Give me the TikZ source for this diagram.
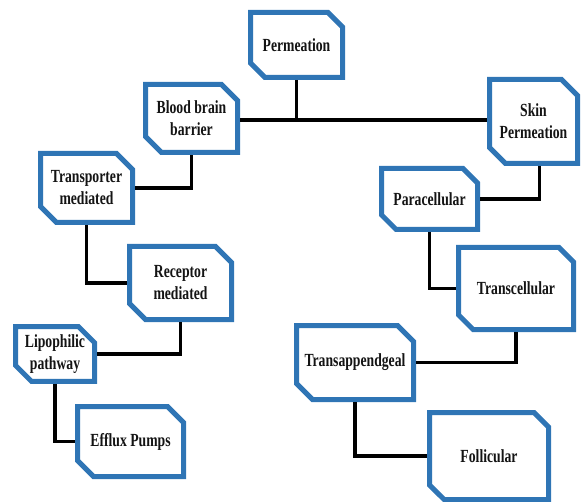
\documentclass[tikz,border=0pt]{standalone}
\usepackage{fontspec}
\newfontfamily\boxfont[FakeStretch=0.74]{Liberation Serif}
\usetikzlibrary{shapes.misc}
\definecolor{boxblue}{RGB}{47,117,181}
\definecolor{txt}{RGB}{20,20,20}
\tikzset{
  cbox/.style={chamfered rectangle, chamfered rectangle corners={north east,south west},
    chamfered rectangle xsep=8pt, chamfered rectangle ysep=8pt,
    draw=boxblue, line width=5pt, fill=white, text=txt, align=center, inner sep=0pt,
    font=\boxfont\bfseries\fontsize{18.5}{22}\selectfont},
  conn/.style={line width=3.3pt, draw=black}
}
\begin{document}
\begin{tikzpicture}[x=1pt,y=-1pt]
\useasboundingbox (0,0) rectangle (583,502);
\coordinate (J) at (297,120);
\node[cbox, minimum width=92, minimum height=65] (perm) at (296.5,45) {Permeation};
\node[cbox, minimum width=92, minimum height=68] (bbb) at (191.5,118.5) {Blood brain\\barrier};
\node[cbox, minimum width=88, minimum height=84] (skin) at (533.5,121.5) {Skin\\Permeation};
\node[cbox, minimum width=92, minimum height=69] (trans) at (86.5,188) {Transporter\\mediated};
\node[cbox, minimum width=102, minimum height=73] (rec) at (180.5,283) {Receptor\\mediated};
\node[cbox, minimum width=79, minimum height=53] (lip) at (55,354) {Lipophilic\\pathway};
\node[cbox, minimum width=106, minimum height=70] (eff) at (130.5,441.5) {Efflux Pumps};
\node[cbox, minimum width=96, minimum height=61] (para) at (429.5,199) {Paracellular};
\node[cbox, minimum width=115, minimum height=82] (tcell) at (516,288.5) {Transcellular};
\node[cbox, minimum width=117, minimum height=74] (tapp) at (355,362.5) {Transappendgeal};
\node[cbox, minimum width=119, minimum height=87] (foll) at (489,456) {Follicular};
\draw[conn] (perm.south) -- (perm.south |- J);
\draw[conn] (bbb.east |- J) -- (skin.west |- J);
\draw[conn] (trans.east) -| (bbb.south);
\draw[conn] (trans.south) |- (rec.west);
\draw[conn] (rec.south) |- (lip.east);
\draw[conn] (lip.south) |- (eff.west);
\coordinate (sk) at ([xshift=6pt]skin.south);
\draw[conn] (sk) |- (para.east);
\draw[conn] (para.south) |- (tcell.west);
\draw[conn] (tcell.south) |- (tapp.east);
\draw[conn] (tapp.south) |- (foll.west);
\end{tikzpicture}
\end{document}
